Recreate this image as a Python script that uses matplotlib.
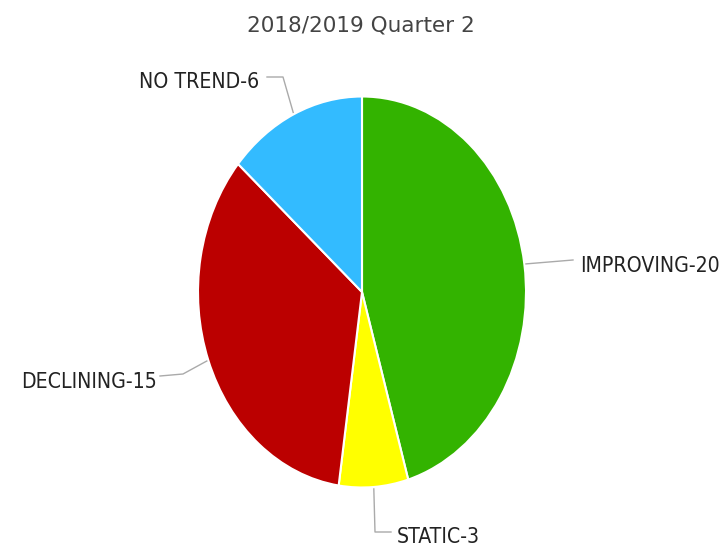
import numpy as np
import matplotlib.pyplot as plt

# slice data, clockwise from 12 o'clock
labels = ["IMPROVING", "STATIC", "DECLINING", "NO TREND"]
counts = [20, 3, 15, 6]
colors = ["#33b300", "#ffff00", "#bb0000", "#33bbff"]
title = "2018/2019 Quarter 2"

W, H = 724, 549
cx, cy = 362, 292      # pie centre in pixels (from top)
rx, ry = 164, 195.5    # the pie is drawn squashed into an ellipse

fig = plt.figure(figsize=(W / 100, H / 100), dpi=100)
ax = fig.add_axes([0, 0, 1, 1])

wedges, _ = ax.pie(counts, colors=colors, startangle=90, counterclock=False,
                   wedgeprops=dict(edgecolor="white", linewidth=1.5))
ax.set_aspect("auto")
ax.set_xlim(-cx / rx, (W - cx) / rx)
ax.set_ylim((cy - H) / ry, cy / ry)
ax.axis("off")

def px(x, y):
    # pixel position -> data position
    return (x - cx) / rx, (cy - y) / ry

# label anchor and leader elbow (pixels) for each slice
label_pos = [(580, 266, "left"), (397, 537, "left"),
             (157, 382, "right"), (259, 82, "right")]
elbows = [(573, 260), (375, 532), (183, 374), (283, 77)]
ends = [(573, 260), (391, 532), (160, 376), (267, 77)]

total = sum(counts)
start = 90.0
for name, n, (lx, ly, ha), el, en in zip(labels, counts, label_pos, elbows, ends):
    span = 360.0 * n / total
    mid = np.deg2rad(start - span / 2)
    start -= span
    ex, ey = np.cos(mid) * 1.01, np.sin(mid) * 1.01
    pts = [(ex, ey), px(*el), px(*en)]
    xs, ys = zip(*pts)
    ax.plot(xs, ys, color="#aaaaaa", linewidth=1)
    tx, ty = px(lx, ly)
    # labels in the reference are tall and narrow -> condensed face
    ax.text(tx, ty, f"{name}-{n}", ha=ha, va="center", fontsize=15.2,
            family="DejaVu Sans", fontstretch="condensed", color="#222222")

tx, ty = px(361, 25)
ax.text(tx, ty, title, ha="center", va="center", fontsize=15.5, color="#444444")

fig.savefig("out.png", dpi=100)
